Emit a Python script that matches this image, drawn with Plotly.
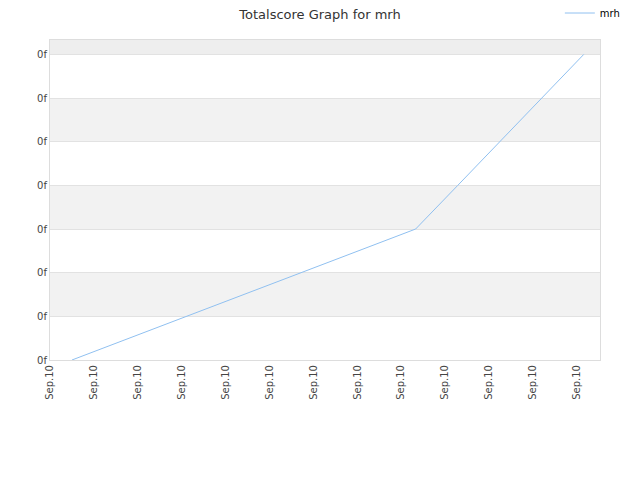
import plotly.graph_objects as go

# data
x_vals = [0.5, 3.11, 5.72, 8.33, 9.29, 10.25, 11.2, 12.16]
y_vals = [0, 1, 2, 3, 4, 5, 6, 7]
x_tick_vals = list(range(13))
x_tick_text = ["Sep.10"] * 13
y_tick_vals = list(range(8))
y_tick_text = ["0f"] * 8
series_name = "mrh"

fig = go.Figure()
fig.add_trace(go.Scatter(x=x_vals, y=y_vals, mode="lines", name=series_name,
                         line=dict(color="#90c0f0", width=1)))

shapes = []
shapes.append(dict(type="rect", xref="paper", yref="y", x0=0, x1=1, y0=7, y1=7.33,
                   fillcolor="#eeeeee", line=dict(width=0), layer="below"))
for lo in [1, 3, 5]:
    shapes.append(dict(type="rect", xref="paper", yref="y", x0=0, x1=1, y0=lo, y1=lo + 1,
                       fillcolor="#f2f2f2", line=dict(width=0), layer="below"))

fig.update_layout(
    width=624, height=464,
    margin=dict(l=42, r=32, t=32, b=112, autoexpand=False),
    paper_bgcolor="white", plot_bgcolor="white",
    font=dict(family="DejaVu Sans", size=10, color="#333333"),
    title=dict(text="Totalscore Graph for mrh", x=0.5, xanchor="center",
               y=1 - 6 / 464, yanchor="middle", yref="container",
               font=dict(size=13, color="#333333")),
    showlegend=True,
    legend=dict(orientation="h", x=0.927, xanchor="left", y=1 + 27 / 320, yref="paper",
                yanchor="middle", itemwidth=30,
                font=dict(size=10, color="#000000"), bgcolor="rgba(0,0,0,0)"),
    shapes=shapes,
    xaxis=dict(range=[0, 12.53], tickmode="array", tickvals=x_tick_vals, ticktext=x_tick_text,
               tickangle=-90, showgrid=False, zeroline=False, showline=True, linecolor="#dddddd",
               mirror=True, ticks="", tickfont=dict(size=10, color="#444444")),
    yaxis=dict(range=[0, 7.33], tickmode="array", tickvals=y_tick_vals, ticktext=y_tick_text,
               showgrid=True, gridcolor="#e2e2e2", zeroline=False, showline=True, linecolor="#dddddd",
               mirror=True, ticks="", tickfont=dict(size=10, color="#444444")),
)

fig.write_html("out.html")
